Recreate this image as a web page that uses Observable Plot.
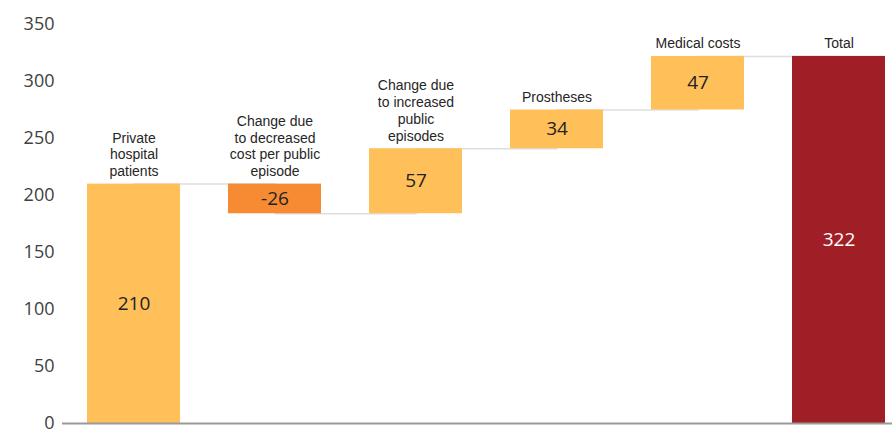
<!DOCTYPE html>
<html>
<head>
<meta charset="utf-8">
<script src="https://cdn.jsdelivr.net/npm/d3@7"></script>
<script src="https://cdn.jsdelivr.net/npm/@observablehq/plot@0.6"></script>
<style>
  html, body { margin: 0; padding: 0; background: #fff; }
  #chart svg { display: block; }
</style>
</head>
<body>
<div id="chart"></div>
<script>
const categories = [
  "Private hospital patients",
  "Change due to decreased cost per public episode",
  "Change due to increased public episodes",
  "Prostheses",
  "Medical costs",
  "Total"
];
const categoryLabels = [
  "Private\nhospital\npatients",
  "Change due\nto decreased\ncost per public\nepisode",
  "Change due\nto increased\npublic\nepisodes",
  "Prostheses",
  "Medical costs",
  "Total"
];
const values = [210, -26, 57, 34, 47, 322];
const kinds = ["base", "decrease", "increase", "increase", "increase", "total"];
const yTicks = [0, 50, 100, 150, 200, 250, 300, 350];

// Build waterfall rows (running totals)
let running = 0;
const rows = categories.map((cat, i) => {
  let y1, y2;
  if (kinds[i] === "total") { y1 = 0; y2 = values[i]; running = values[i]; }
  else { y1 = running; y2 = running + values[i]; running = y2; }
  return { cat, label: categoryLabels[i], value: values[i], kind: kinds[i], y1, y2, level: running };
});

const chart = Plot.plot({
  width: 892,
  height: 430,
  marginLeft: 62,
  marginRight: 0,
  marginTop: 24,
  marginBottom: 7,
  style: { fontFamily: "'Open Sans', 'Noto Sans', sans-serif", color: "#404040", background: "#fff", overflow: "visible" },
  x: { domain: categories, paddingInner: 0.34, paddingOuter: 0.109, align: 0.77, axis: null },
  y: { domain: [0, 350], label: null, axis: null },
  color: {
    domain: ["base", "decrease", "increase", "total"],
    range: ["#FFC05A", "#F68B33", "#FFC05A", "#A01F26"]
  },
  marks: [
    Plot.axisY({ ticks: yTicks, tickSize: 0, tickPadding: 8, fontSize: 18, label: null, fill: "#404040" }),
    Plot.lineY(rows, { x: "cat", y: "level", curve: "step-after", stroke: "#dedede", strokeWidth: 1.5 }),
    Plot.barY(rows, { x: "cat", y1: "y1", y2: "y2", fill: "kind" }),
    Plot.ruleY([0], { stroke: "#9a9a9a", strokeWidth: 2 }),
    Plot.text(rows.filter(d => d.kind !== "total"), {
      x: "cat", y: d => (d.y1 + d.y2) / 2, text: d => String(d.value),
      fontSize: 19, fill: "#222", textAnchor: "middle", lineAnchor: "middle"
    }),
    Plot.text(rows.filter(d => d.kind === "total"), {
      x: "cat", y: d => (d.y1 + d.y2) / 2, text: d => String(d.value),
      fontSize: 19, fill: "#fff", textAnchor: "middle", lineAnchor: "middle"
    }),
    Plot.text(rows, {
      x: "cat", y: d => Math.max(d.y1, d.y2), text: "label",
      lineAnchor: "bottom", dy: -8, fontSize: 14, lineHeight: 1.2,
      fontFamily: "'Liberation Sans', Arial, sans-serif", fill: "#262626"
    })
  ]
});
document.getElementById("chart").appendChild(chart);
</script>
</body>
</html>
